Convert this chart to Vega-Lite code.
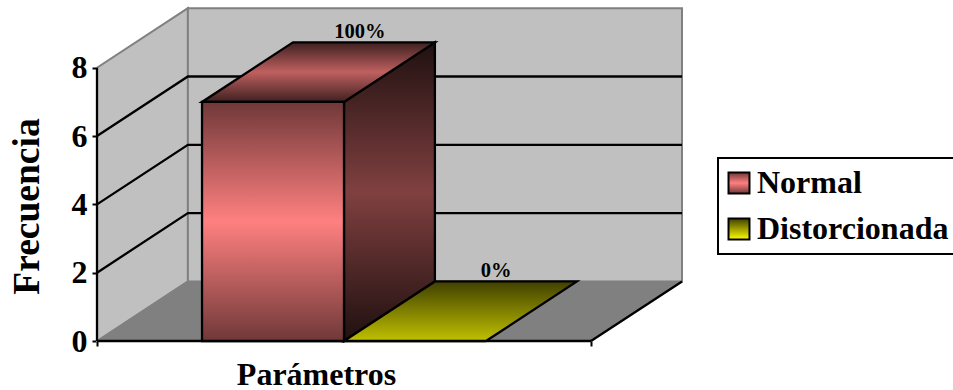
{
  "$schema": "https://vega.github.io/schema/vega-lite/v6.json",
  "autosize": "none",
  "width": 585,
  "height": 333,
  "padding": {"left": 97, "top": 8, "right": 271, "bottom": 49},
  "background": "white",
  "config": {
    "view": {"stroke": null},
    "font": "Liberation Serif",
    "text": {"font": "Liberation Serif"},
    "legend": {"strokeWidth": 2}
  },
  "datasets": {
    "leftWall": [
      {"x": 0, "low": 0, "high": 8},
      {"x": 0.184, "low": 1.744, "high": 9.744}
    ],
    "backWall": [
      {"x": 0.184, "low": 1.744, "high": 9.744},
      {"x": 1.1842, "low": 1.744, "high": 9.744}
    ],
    "floor": [
      {"y": 0, "left": 0, "right": 1},
      {"y": 1.744, "left": 0.184, "right": 1.1842}
    ],
    "gridlines": [
      {"level": 2, "x": 0, "y": 2},
      {"level": 2, "x": 0.184, "y": 3.744},
      {"level": 2, "x": 1.1842, "y": 3.744},
      {"level": 4, "x": 0, "y": 4},
      {"level": 4, "x": 0.184, "y": 5.744},
      {"level": 4, "x": 1.1842, "y": 5.744},
      {"level": 6, "x": 0, "y": 6},
      {"level": 6, "x": 0.184, "y": 7.744},
      {"level": 6, "x": 1.1842, "y": 7.744}
    ],
    "frame": [
      {"edge": "axis", "x": 0, "y": 0},
      {"edge": "axis", "x": 0, "y": 8},
      {"edge": "front", "x": 0, "y": 0},
      {"edge": "front", "x": 1, "y": 0},
      {"edge": "side", "x": 1, "y": 0},
      {"edge": "side", "x": 1.1842, "y": 1.744}
    ],
    "normalFront": [
      {"serie": "Normal", "x": 0.2126, "low": 0, "high": 7},
      {"serie": "Normal", "x": 0.5, "low": 0, "high": 7}
    ],
    "normalSide": [
      {"x": 0.5, "low": 0, "high": 7},
      {"x": 0.684, "low": 1.744, "high": 8.744}
    ],
    "normalTop": [
      {"y": 7, "left": 0.2126, "right": 0.5},
      {"y": 8.744, "left": 0.3966, "right": 0.684}
    ],
    "distorcionadaTop": [
      {"y": 0, "left": 0.5, "right": 0.7874},
      {"y": 1.744, "left": 0.684, "right": 0.9714}
    ],
    "labels": [
      {"serie": "Normal", "x": 0.532, "y": 8.744, "label": "100%"},
      {"serie": "Distorcionada", "x": 0.808, "y": 1.744, "label": "0%"}
    ]
  },
  "layer": [
    {
      "data": {"name": "leftWall"},
      "mark": {"type": "area", "fill": "#c0c0c0", "stroke": "#808080", "strokeWidth": 2},
      "encoding": {
        "x": {
          "field": "x",
          "type": "quantitative",
          "scale": {"domain": [0, 1.1842], "nice": false, "zero": false},
          "axis": {
            "values": [0, 1],
            "labels": false,
            "domain": false,
            "grid": false,
            "ticks": true,
            "tickColor": "black",
            "tickWidth": 2,
            "tickSize": 5,
            "title": "Parámetros",
            "titleFont": "Liberation Serif",
            "titleFontWeight": "bold",
            "titleFontSize": 32,
            "titleColor": "black",
            "titleX": 219,
            "titleY": 43,
            "titleAlign": "center",
            "titleBaseline": "alphabetic"
          }
        },
        "y": {
          "field": "low",
          "type": "quantitative",
          "scale": {"domain": [0, 9.75], "nice": false, "zero": false},
          "axis": {
            "values": [0, 2, 4, 6, 8],
            "domain": false,
            "grid": false,
            "tickColor": "black",
            "tickWidth": 2,
            "tickSize": 5,
            "labelFont": "Liberation Serif",
            "labelFontWeight": "bold",
            "labelFontSize": 32,
            "labelColor": "black",
            "labelPadding": 5,
            "labelOverlap": false,
            "labelBound": false,
            "labelFlush": false,
            "title": "Frecuencia",
            "titleFont": "Liberation Serif",
            "titleFontWeight": "bold",
            "titleFontSize": 37.5,
            "titleColor": "black",
            "titleAngle": 270,
            "titleX": -70,
            "titleY": 198,
            "titleAlign": "center",
            "titleBaseline": "middle"
          }
        },
        "y2": {"field": "high"}
      }
    },
    {
      "data": {"name": "backWall"},
      "mark": {"type": "area", "fill": "#c0c0c0", "stroke": "#808080", "strokeWidth": 2},
      "encoding": {
        "x": {"field": "x", "type": "quantitative"},
        "y": {"field": "low", "type": "quantitative"},
        "y2": {"field": "high"}
      }
    },
    {
      "data": {"name": "floor"},
      "mark": {"type": "area", "orient": "horizontal", "fill": "#808080", "stroke": "#808080", "strokeWidth": 1},
      "encoding": {
        "y": {"field": "y", "type": "quantitative"},
        "x": {"field": "left", "type": "quantitative"},
        "x2": {"field": "right"}
      }
    },
    {
      "data": {"name": "gridlines"},
      "mark": {"type": "line", "color": "black", "strokeWidth": 2.3},
      "encoding": {
        "x": {"field": "x", "type": "quantitative"},
        "y": {"field": "y", "type": "quantitative"},
        "detail": {"field": "level"}
      }
    },
    {
      "data": {"name": "frame"},
      "mark": {"type": "line", "color": "black", "strokeWidth": 2.3},
      "encoding": {
        "x": {"field": "x", "type": "quantitative"},
        "y": {"field": "y", "type": "quantitative"},
        "detail": {"field": "edge"}
      }
    },
    {
      "data": {"name": "normalSide"},
      "mark": {
        "type": "area",
        "stroke": "black",
        "strokeWidth": 2.3,
        "fill": {
          "gradient": "linear", "x1": 0, "y1": 0, "x2": 0, "y2": 1,
          "stops": [
            {"offset": 0, "color": "#201010"},
            {"offset": 0.5, "color": "#804040"},
            {"offset": 1, "color": "#201010"}
          ]
        }
      },
      "encoding": {
        "x": {"field": "x", "type": "quantitative"},
        "y": {"field": "low", "type": "quantitative"},
        "y2": {"field": "high"}
      }
    },
    {
      "data": {"name": "normalTop"},
      "mark": {
        "type": "area",
        "orient": "horizontal",
        "stroke": "black",
        "strokeWidth": 2.3,
        "fill": {
          "gradient": "linear", "x1": 0, "y1": 0, "x2": 0, "y2": 1,
          "stops": [
            {"offset": 0, "color": "#402020"},
            {"offset": 0.5, "color": "#bf6060"},
            {"offset": 1, "color": "#402020"}
          ]
        }
      },
      "encoding": {
        "y": {"field": "y", "type": "quantitative"},
        "x": {"field": "left", "type": "quantitative"},
        "x2": {"field": "right"}
      }
    },
    {
      "data": {"name": "distorcionadaTop"},
      "mark": {
        "type": "area",
        "orient": "horizontal",
        "stroke": "black",
        "strokeWidth": 2.3,
        "fill": {
          "gradient": "linear", "x1": 0, "y1": 0, "x2": 0, "y2": 1,
          "stops": [
            {"offset": 0, "color": "#404000"},
            {"offset": 1, "color": "#c0c000"}
          ]
        }
      },
      "encoding": {
        "y": {"field": "y", "type": "quantitative"},
        "x": {"field": "left", "type": "quantitative"},
        "x2": {"field": "right"}
      }
    },
    {
      "data": {"name": "normalFront"},
      "mark": {
        "type": "area",
        "strokeWidth": 2.3,
        "fill": {
          "gradient": "linear", "x1": 0, "y1": 0, "x2": 0, "y2": 1,
          "stops": [
            {"offset": 0, "color": "#703838"},
            {"offset": 0.5, "color": "#ff8080"},
            {"offset": 1, "color": "#703838"}
          ]
        }
      },
      "encoding": {
        "x": {"field": "x", "type": "quantitative"},
        "y": {"field": "low", "type": "quantitative"},
        "y2": {"field": "high"},
        "stroke": {
          "field": "serie",
          "type": "nominal",
          "scale": {
            "domain": ["Normal", "Distorcionada"],
            "range": ["black", "black"]
          },
          "legend": {
            "orient": "none",
            "legendX": 621,
            "legendY": 150,
            "title": null,
            "symbolType": "square",
            "symbolSize": 440,
            "symbolStrokeWidth": 2,
            "symbolOpacity": 1,
            "symbolOffset": -4,
            "labelFont": "Liberation Serif",
            "labelFontWeight": "bold",
            "labelFontSize": 32,
            "labelColor": "black",
            "labelLimit": 300,
            "labelOffset": 2,
            "rowPadding": 14,
            "strokeColor": "black",
            "fillColor": "white",
            "padding": 9,
            "encoding": {
              "symbols": {
                "fill": {
                  "condition": {
                    "test": "datum.value === 'Normal'",
                    "value": {
                      "gradient": "linear", "x1": 0, "y1": 0, "x2": 0, "y2": 1,
                      "stops": [
                        {"offset": 0, "color": "#703838"},
                        {"offset": 0.5, "color": "#ff8080"},
                        {"offset": 1, "color": "#703838"}
                      ]
                    }
                  },
                  "value": {
                    "gradient": "linear", "x1": 0, "y1": 0, "x2": 0, "y2": 1,
                    "stops": [
                      {"offset": 0, "color": "#404000"},
                      {"offset": 1, "color": "#ffff00"}
                    ]
                  }
                }
              }
            }
          }
        }
      }
    },
    {
      "data": {"name": "labels"},
      "mark": {
        "type": "text",
        "font": "Liberation Serif",
        "fontWeight": "bold",
        "fontSize": 20.5,
        "color": "black",
        "baseline": "alphabetic",
        "dy": -4
      },
      "encoding": {
        "x": {"field": "x", "type": "quantitative"},
        "y": {"field": "y", "type": "quantitative"},
        "text": {"field": "label", "type": "nominal"}
      }
    }
  ]
}
